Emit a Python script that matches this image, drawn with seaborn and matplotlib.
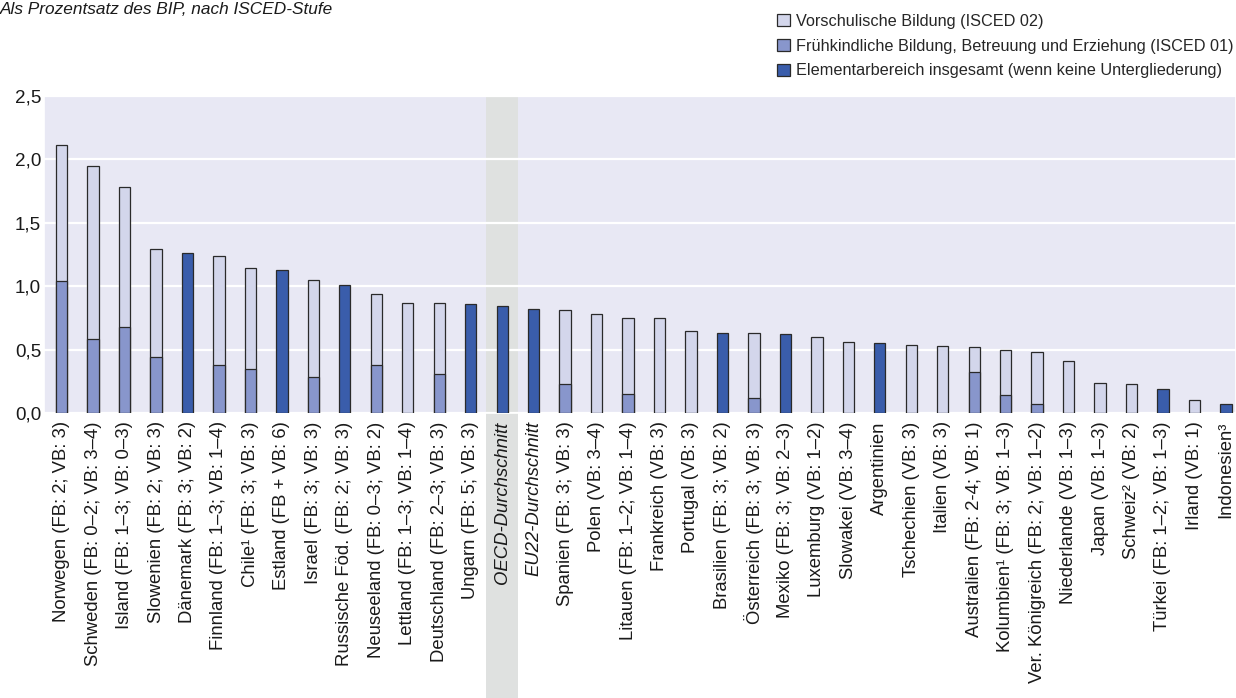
import numpy as np
import pandas as pd
import matplotlib
matplotlib.use("Agg")
import matplotlib.pyplot as plt
import matplotlib.transforms as mtransforms
from matplotlib.patches import Patch, Rectangle
import seaborn as sns

# ---- data ----
categories = [
    "Norwegen (FB: 2; VB: 3)", "Schweden (FB: 0–2; VB: 3–4)", "Island (FB: 1–3; VB: 0–3)",
    "Slowenien (FB: 2; VB: 3)", "Dänemark (FB: 3; VB: 2)", "Finnland (FB: 1–3; VB: 1–4)",
    "Chile¹ (FB: 3; VB: 3)", "Estland (FB + VB: 6)", "Israel (FB: 3; VB: 3)",
    "Russische Föd. (FB: 2; VB: 3)", "Neuseeland (FB: 0–3; VB: 2)", "Lettland (FB: 1–3; VB: 1–4)",
    "Deutschland (FB: 2–3; VB: 3)", "Ungarn (FB: 5; VB: 3)", "OECD-Durchschnitt",
    "EU22-Durchschnitt", "Spanien (FB: 3; VB: 3)", "Polen (VB: 3–4)",
    "Litauen (FB: 1–2; VB: 1–4)", "Frankreich (VB: 3)", "Portugal (VB: 3)",
    "Brasilien (FB: 3; VB: 2)", "Österreich (FB: 3; VB: 3)", "Mexiko (FB: 3; VB: 2–3)",
    "Luxemburg (VB: 1–2)", "Slowakei (VB: 3–4)", "Argentinien",
    "Tschechien (VB: 3)", "Italien (VB: 3)", "Australien (FB: 2-4; VB: 1)",
    "Kolumbien¹ (FB: 3; VB: 1–3)", "Ver. Königreich (FB: 2; VB: 1–2)", "Niederlande (VB: 1–3)",
    "Japan (VB: 1–3)", "Schweiz² (VB: 2)", "Türkei (FB: 1–2; VB: 1–3)",
    "Irland (VB: 1)", "Indonesien³",
]
# ISCED 01 (Frühkindliche Bildung), NaN = not reported
isced01 = [1.04, 0.58, 0.68, 0.44, np.nan, 0.38, 0.35, np.nan, 0.28, np.nan, 0.38, np.nan,
           0.31, np.nan, np.nan, np.nan, 0.23, np.nan, 0.15, np.nan, np.nan, np.nan, 0.12, np.nan,
           np.nan, np.nan, np.nan, np.nan, np.nan, 0.32, 0.14, 0.07, np.nan, np.nan, np.nan, np.nan,
           np.nan, np.nan]
# ISCED 02 (Vorschulische Bildung)
isced02 = [1.07, 1.37, 1.10, 0.85, np.nan, 0.86, 0.79, np.nan, 0.77, np.nan, 0.56, 0.87,
           0.56, np.nan, np.nan, np.nan, 0.58, 0.78, 0.60, 0.75, 0.65, np.nan, 0.51, np.nan,
           0.60, 0.56, np.nan, 0.54, 0.53, 0.20, 0.36, 0.41, 0.41, 0.24, 0.23, np.nan,
           0.10, np.nan]
# Elementarbereich insgesamt (no breakdown)
gesamt = [np.nan, np.nan, np.nan, np.nan, 1.26, np.nan, np.nan, 1.13, np.nan, 1.01, np.nan, np.nan,
          np.nan, 0.86, 0.84, 0.82, np.nan, np.nan, np.nan, np.nan, np.nan, 0.63, np.nan, 0.62,
          np.nan, np.nan, 0.55, np.nan, np.nan, np.nan, np.nan, np.nan, np.nan, np.nan, np.nan, 0.19,
          np.nan, 0.07]

legend_labels = [
    "Vorschulische Bildung (ISCED 02)",
    "Frühkindliche Bildung, Betreuung und Erziehung (ISCED 01)",
    "Elementarbereich insgesamt (wenn keine Untergliederung)",
]
subtitle = "Als Prozentsatz des BIP, nach ISCED-Stufe"
yticks = [0.0, 0.5, 1.0, 1.5, 2.0, 2.5]

# ---- style ----
sns.set_theme(style="darkgrid")
plt.rcParams["font.family"] = ["Liberation Sans", "DejaVu Sans"]
plt.rcParams["axes.facecolor"] = "#e8e8f4"

c_light = "#d3d6eb"
c_mid = "#8896cc"
c_dark = "#3a5dab"
edge = "#2a2a2a"

df = pd.DataFrame({"land": categories, "i01": isced01, "i02": isced02, "ges": gesamt})
df["stack"] = df["i01"].fillna(0) + df["i02"]

fig = plt.figure(figsize=(12.36, 6.98), dpi=100)
ax = fig.add_axes([44 / 1236, 1 - 413 / 698, 1 - 44 / 1236, (413 - 96) / 698])

bar_kw = dict(order=categories, width=0.36, errorbar=None, edgecolor=edge, linewidth=0.9, ax=ax, zorder=3)
d = df.dropna(subset=["stack"])
sns.barplot(data=d, x="land", y="stack", color=c_light, saturation=1, **bar_kw)
d = df.dropna(subset=["i01"])
sns.barplot(data=d, x="land", y="i01", color=c_mid, saturation=1, **bar_kw)
d = df.dropna(subset=["ges"])
sns.barplot(data=d, x="land", y="ges", color=c_dark, saturation=1, **bar_kw)

ax.set_xlim(-0.56, len(categories) - 1 + 0.32)
ax.set_ylim(0, 2.5)
ax.set_yticks(yticks)
ax.set_yticklabels([f"{v:.1f}".replace(".", ",") for v in yticks])
ax.grid(axis="x", visible=False)
ax.grid(axis="y", color="white", linewidth=1.6)
ax.set_xlabel("")
ax.set_ylabel("")
ax.tick_params(axis="y", labelsize=13.6, pad=2, length=0, labelcolor="#1a1a1a")
ax.tick_params(axis="x", labelsize=13.35, pad=6, length=0, labelcolor="#1a1a1a")
ax.set_xticks(range(len(categories)))
ax.set_xticklabels(categories, rotation=90, ha="center", va="top")
for lbl in ax.get_xticklabels():
    if "Durchschnitt" in lbl.get_text():
        lbl.set_fontstyle("italic")

# OECD highlight band
oecd_i = categories.index("OECD-Durchschnitt")
trans = mtransforms.blended_transform_factory(ax.transData, ax.transAxes)
ax.add_patch(Rectangle((oecd_i - 0.51, -0.9), 1.02, 1.9, transform=trans,
                       facecolor="#dfe1e0", edgecolor="none", clip_on=False, zorder=0.4))

# legend
handles = [Patch(facecolor=c, edgecolor=edge, linewidth=0.9) for c in (c_light, c_mid, c_dark)]
fig.legend(handles, legend_labels, loc="upper right", bbox_to_anchor=(0.998, 0.98),
           frameon=False, fontsize=11.7, handlelength=0.75, handleheight=0.75,
           handletextpad=0.4, labelspacing=0.6, borderpad=0, borderaxespad=0)

fig.text(0.0, 1 - 9 / 698, subtitle, fontsize=12.4, fontstyle="italic", va="center", ha="left",
         color="#1a1a1a")

fig.savefig("out.png", dpi=100)
